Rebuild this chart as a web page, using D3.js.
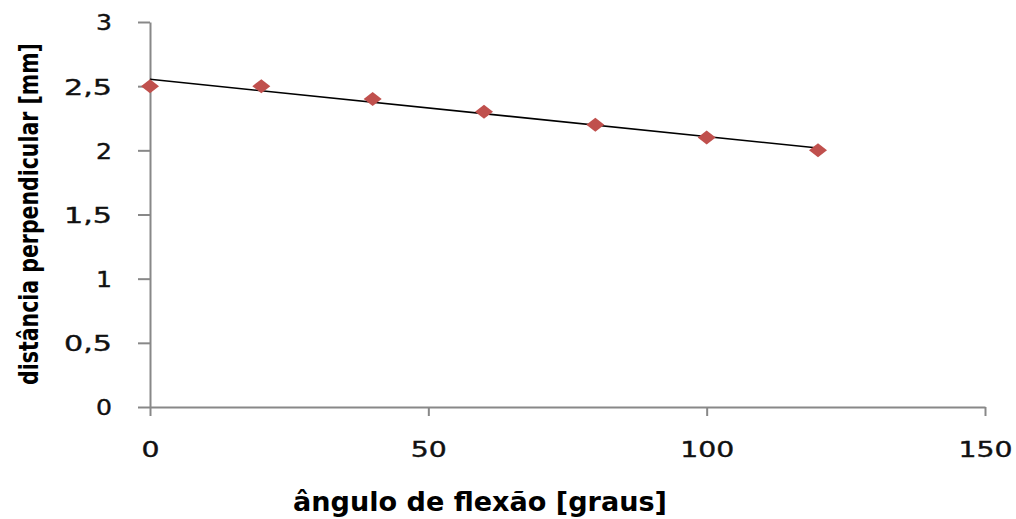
<!DOCTYPE html>
<html><head><meta charset="utf-8">
<script src="https://cdn.jsdelivr.net/npm/d3@7"></script>
<style>body{margin:0;background:#fff}svg{display:block}text{font-family:"DejaVu Sans",sans-serif}</style>
</head><body><svg id="c" width="1016" height="519"></svg>
<script>
const angles = [0, 20, 40, 60, 80, 100, 120];
const distances = [2.5, 2.5, 2.4, 2.3, 2.2, 2.1, 2.0];
const xTicks = [0, 50, 100, 150];
const yTicks = [0, 0.5, 1, 1.5, 2, 2.5, 3];
const xTitle = "ângulo de flexão [graus]";
const yTitle = "distância perpendicular [mm]";

const svg = d3.select("#c");
const x = d3.scaleLinear().domain([0,150]).range([150,985]);
const y = d3.scaleLinear().domain([0,3]).range([407,22]);
const fmt = d => String(d).replace(".", ",");

// y axis
const gy = svg.append("g").attr("transform","translate(150,0)")
  .call(d3.axisLeft(y).tickValues(yTicks).tickSize(12).tickSizeOuter(0).tickFormat(fmt));
// x axis
const gx = svg.append("g").attr("transform","translate(0,407)")
  .call(d3.axisBottom(x).tickValues(xTicks).tickSize(9).tickSizeOuter(0).tickFormat(fmt));
[gx,gy].forEach(g=>{
  g.select(".domain").attr("stroke","#888").attr("stroke-width",2);
  g.selectAll(".tick line").attr("stroke","#888").attr("stroke-width",2);
  g.selectAll(".tick text").attr("fill","#111").attr("stroke","#111").attr("stroke-width",0.4)
    .style("font-size","22px").attr("font-family","DejaVu Sans");
});
gy.selectAll(".tick text").attr("x",-38).attr("dy","0.36em");
gx.selectAll(".tick text").attr("y",34).attr("dy","0.71em");
gx.selectAll(".tick text").each(function(){ const t=d3.select(this); const n=t.text().length; t.attr("textLength", n*18).attr("lengthAdjust","spacingAndGlyphs"); });
gy.selectAll(".tick text").each(function(){ const t=d3.select(this); const s=t.text(); const w = s.length===1?16:48; t.attr("textLength", w).attr("lengthAdjust","spacingAndGlyphs"); });

// trendline (least squares)
const mx = d3.mean(angles), my = d3.mean(distances);
const slope = d3.sum(angles,(a,i)=>(a-mx)*(distances[i]-my))/d3.sum(angles,a=>(a-mx)**2);
const icpt = my - slope*mx;
const x0 = d3.min(angles), x1 = d3.max(angles);
svg.append("line").attr("x1",x(x0)).attr("y1",y(icpt+slope*x0)).attr("x2",x(x1)).attr("y2",y(icpt+slope*x1))
  .attr("stroke","#000").attr("stroke-width",1.6);

// markers
svg.selectAll("path.pt").data(angles).enter().append("path").attr("class","pt")
  .attr("d","M-9,0L0,-7L9,0L0,7Z")
  .attr("transform",(d,i)=>`translate(${x(d)},${y(distances[i])})`)
  .attr("fill","#C0504D");

// titles
svg.append("text").attr("x",480).attr("y",511).attr("text-anchor","middle")
  .style("font-size","26px").style("font-weight","bold").attr("fill","#000")
  .attr("textLength",374).attr("lengthAdjust","spacingAndGlyphs").text(xTitle);
const yt = svg.append("text").attr("text-anchor","middle")
  .style("font-size","27px").style("font-weight","bold").attr("fill","#000")
  .text(yTitle);
const natural = yt.node().getComputedTextLength();
yt.attr("transform",`translate(38,214) rotate(-90) scale(${342/natural},1)`);
</script></body></html>
